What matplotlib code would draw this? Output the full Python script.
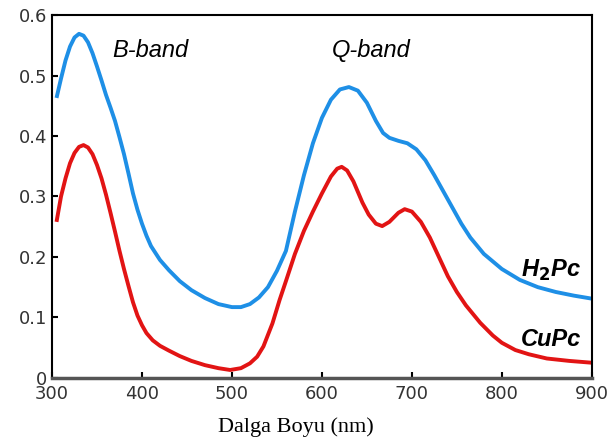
import matplotlib
matplotlib.use("Agg")
import matplotlib.pyplot as plt

# H2Pc (blue) spectrum
h2pc_x = [305, 310, 315, 320, 325, 330, 335, 340, 345, 350, 355, 360, 365, 370, 375, 380, 385, 390,
          395, 400, 405, 410, 420, 430, 442, 455, 470, 485, 500, 510, 520, 530, 540, 550, 560, 570,
          580, 590, 600, 610, 620, 630, 640, 650, 660, 668, 675, 685, 695, 705, 715, 725, 740, 755,
          765, 780, 800, 820, 840, 860, 880, 900]
h2pc_y = [0.463, 0.495, 0.525, 0.548, 0.563, 0.569, 0.566, 0.555, 0.537, 0.515, 0.492, 0.468, 0.447,
          0.425, 0.398, 0.37, 0.338, 0.305, 0.278, 0.255, 0.235, 0.218, 0.195, 0.178, 0.160, 0.145,
          0.132, 0.122, 0.117, 0.117, 0.122, 0.133, 0.150, 0.177, 0.210, 0.275, 0.335, 0.388, 0.43,
          0.46, 0.477, 0.481, 0.475, 0.455, 0.425, 0.405, 0.397, 0.392, 0.388, 0.378, 0.36, 0.335,
          0.295, 0.255, 0.232, 0.205, 0.180, 0.162, 0.150, 0.142, 0.136, 0.131]

# CuPc (red) spectrum
cupc_x = [305, 310, 315, 320, 325, 330, 335, 340, 345, 350, 355, 360, 365, 370, 375, 380, 385, 390,
          395, 400, 405, 412, 420, 430, 442, 455, 470, 485, 498, 510, 520, 528, 535, 545, 553, 560,
          570, 580, 590, 600, 610, 617, 622, 628, 635, 645, 652, 660, 667, 675, 685, 692, 700, 710,
          720, 730, 740, 750, 760, 776, 790, 800, 815, 830, 850, 875, 900]
cupc_y = [0.258, 0.3, 0.33, 0.355, 0.372, 0.382, 0.385, 0.381, 0.370, 0.352, 0.330, 0.303, 0.273,
          0.242, 0.21, 0.18, 0.152, 0.125, 0.103, 0.087, 0.074, 0.062, 0.053, 0.045, 0.036, 0.028,
          0.021, 0.016, 0.013, 0.016, 0.024, 0.035, 0.052, 0.09, 0.129, 0.16, 0.205, 0.243, 0.275,
          0.305, 0.333, 0.346, 0.349, 0.343, 0.325, 0.29, 0.27, 0.255, 0.251, 0.258, 0.273, 0.279,
          0.275, 0.258, 0.232, 0.2, 0.168, 0.142, 0.12, 0.091, 0.07, 0.058, 0.046, 0.039, 0.032,
          0.028, 0.025]

xticks = [300, 400, 500, 600, 700, 800, 900]
yticks = [0, 0.1, 0.2, 0.3, 0.4, 0.5, 0.6]
ytick_labels = ["0", "0.1", "0.2", "0.3", "0.4", "0.5", "0.6"]

fig = plt.figure(figsize=(6.12, 4.44), dpi=100)
ax = fig.add_axes([0.085, 0.149, 0.882, 0.817])

ax.plot(h2pc_x, h2pc_y, color="#1e8fe6", lw=2.8, solid_capstyle="butt", solid_joinstyle="round")
ax.plot(cupc_x, cupc_y, color="#e21414", lw=2.8, solid_capstyle="butt", solid_joinstyle="round")

ax.set_xlim(300, 900)
ax.set_ylim(0, 0.6)
ax.set_xticks(xticks)
ax.set_yticks(yticks)
ax.set_yticklabels(ytick_labels)
ax.tick_params(direction="in", length=4, width=1.5, labelsize=13, labelcolor="#333333")
ax.tick_params(axis="x", pad=5)
for lab in ax.get_xticklabels() + ax.get_yticklabels():
    lab.set_family("DejaVu Sans")
for sp in ax.spines.values():
    sp.set_linewidth(1.5)
ax.spines["bottom"].set_color("#555555")
ax.spines["bottom"].set_linewidth(2.5)

ax.set_xlabel("Dalga Boyu (nm)", family="Liberation Serif", fontsize=16, va="center")
ax.xaxis.set_label_coords(0.452, -0.135)

ax.text(409, 0.542, "B-band", fontsize=17, style="italic", family="Liberation Sans", ha="center", va="center")
ax.text(655, 0.542, "Q-band", fontsize=17, style="italic", family="Liberation Sans", ha="center", va="center")
ax.text(855, 0.178, r"H$_\mathbf{2}$Pc", fontsize=17, style="italic", weight="bold",
        family="Liberation Sans", ha="center", va="center")
ax.text(855, 0.063, "CuPc", fontsize=17, style="italic", weight="bold",
        family="Liberation Sans", ha="center", va="center")

fig.savefig("out.png", dpi=100)
